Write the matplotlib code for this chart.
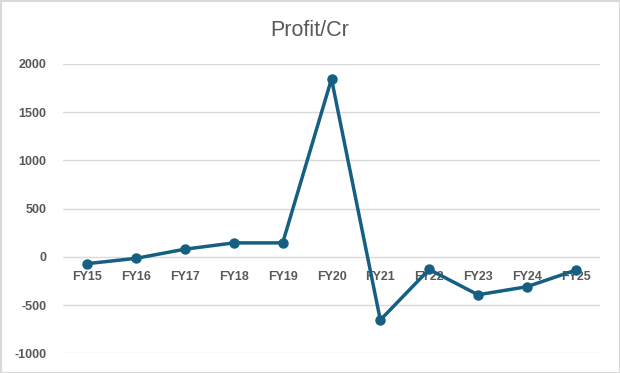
import matplotlib
matplotlib.use("Agg")
import matplotlib.pyplot as plt
from matplotlib.patches import Rectangle

categories = ["FY15", "FY16", "FY17", "FY18", "FY19", "FY20", "FY21", "FY22", "FY23", "FY24", "FY25"]
profit = [-70, -15, 80, 145, 145, 1845, -655, -130, -393, -310, -138]
yticks = [-1000, -500, 0, 500, 1000, 1500, 2000]

plt.rcParams['font.family'] = ['Liberation Sans', 'DejaVu Sans']
fig = plt.figure(figsize=(6.2, 3.73), dpi=100)
ax = fig.add_axes([63/620, 1-353.3/373, (600-63)/620, (353.3-64)/373])

x = list(range(len(categories)))
ax.plot(x, profit, color="#156082", lw=2.5, marker="o", markersize=6.5, zorder=3)

ax.set_xlim(-0.5, len(categories)-0.5)
ax.set_ylim(-1000, 2000)
ax.set_yticks(yticks)
ax.set_yticklabels([str(v) for v in yticks])
ax.grid(axis="y", color="#d9d9d9", lw=1)
ax.set_axisbelow(True)
for s in ax.spines.values():
    s.set_visible(False)
ax.tick_params(axis="y", length=0, pad=12, labelsize=9, labelcolor="#595959")
for t in ax.get_yticklabels():
    t.set_fontweight("bold")
ax.set_xticks([])
for i, c in enumerate(categories):
    ax.annotate(c, xy=(i, 0), xytext=(0, -20), textcoords="offset pixels",
                ha="center", va="center", fontsize=9, color="#595959",
                fontweight="bold", zorder=2)

fig.text(0.5, 1-30/373, "Profit/Cr", ha="center", va="center", fontsize=15.5, color="#595959")
fig.patches.append(Rectangle((0.5/620, 0.5/373), 1-1/620, 1-1/373, transform=fig.transFigure,
                             fill=False, edgecolor="#d9d9d9", lw=1.5))
fig.savefig("out.png", dpi=100)
